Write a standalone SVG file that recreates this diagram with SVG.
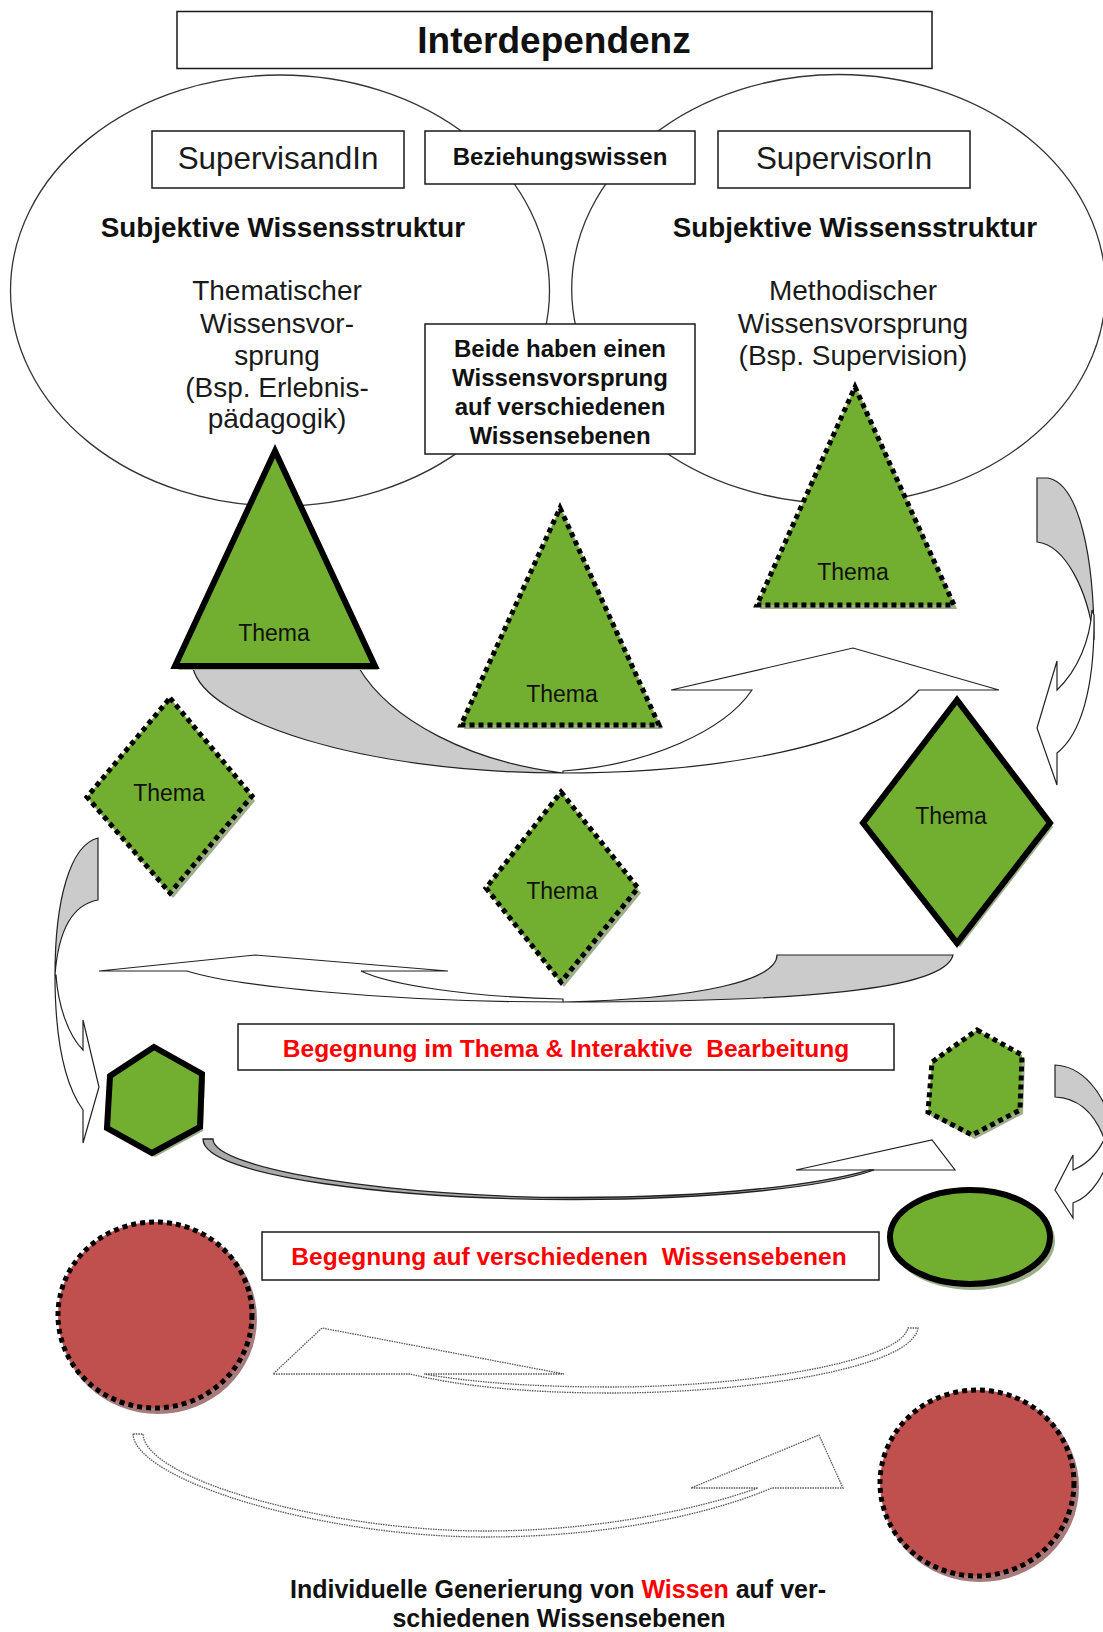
<svg xmlns="http://www.w3.org/2000/svg" width="1103" height="1632" viewBox="0 0 1103 1632">
<style>
text{font-family:"Liberation Sans",Arial,sans-serif}
.box{fill:#fff;stroke:#1a1a1a;stroke-width:1.5}
.ell{fill:#fff;stroke:#333;stroke-width:1.3}
.g{fill:#72ae30}
.r{fill:#c0504d}
.solid{stroke:#000;stroke-width:6;stroke-linejoin:miter}
.dot{stroke:#000;stroke-width:5;stroke-dasharray:5 4}
.gs{fill:#9caf88}
.rs{fill:#a87a7a}
.arr{fill:#fff;stroke:#222;stroke-width:1.2;stroke-linejoin:miter}
.back{fill:#cbcbcb;stroke:#222;stroke-width:1.2;stroke-linejoin:miter}
.dash{fill:#fff;stroke:#555;stroke-width:1.3;stroke-dasharray:1.5 1}
.thema{font-size:23px;fill:#111;text-anchor:middle}
.reg{fill:#1a1a1a;text-anchor:middle}
.bold{font-weight:bold;fill:#111;text-anchor:middle}
.lbl{font-size:24.5px;font-weight:bold;fill:#ff0000;text-anchor:middle;white-space:pre}
</style>

<g id="ellipse-left"><ellipse class="ell" cx="280" cy="290.5" rx="269.5" ry="215.5"/></g>
<g id="ellipse-right"><ellipse class="ell" cx="838.7" cy="289" rx="267" ry="214.5"/></g>

<g id="title">
<rect class="box" x="177" y="11.5" width="755" height="57"/>
<text class="bold" x="554" y="53" font-size="37">Interdependenz</text>
</g>

<g id="supervisandin">
<rect class="box" x="152" y="131" width="252" height="57"/>
<text class="reg" x="278" y="169" font-size="31.4">SupervisandIn</text>
</g>
<g id="beziehungswissen">
<rect class="box" x="425" y="131" width="270" height="53"/>
<text class="bold" x="560" y="165" font-size="24">Beziehungswissen</text>
</g>
<g id="supervisorin">
<rect class="box" x="718" y="131" width="252" height="57"/>
<text class="reg" x="844" y="169" font-size="31.4">SupervisorIn</text>
</g>

<g id="struktur-left">
<text class="bold" x="283" y="237" font-size="27.8">Subjektive Wissensstruktur</text>
<text class="reg" x="277" y="300" font-size="28">Thematischer</text>
<text class="reg" x="277" y="333" font-size="28">Wissensvor-</text>
<text class="reg" x="277" y="365" font-size="28">sprung</text>
<text class="reg" x="277" y="397" font-size="28">(Bsp. Erlebnis-</text>
<text class="reg" x="277" y="428" font-size="28">pädagogik)</text>
</g>
<g id="struktur-right">
<text class="bold" x="855" y="237" font-size="27.8">Subjektive Wissensstruktur</text>
<text class="reg" x="853" y="300" font-size="28">Methodischer</text>
<text class="reg" x="853" y="333" font-size="28">Wissensvorsprung</text>
<text class="reg" x="853" y="365" font-size="28">(Bsp. Supervision)</text>
</g>

<g id="beide">
<rect class="box" x="425" y="324" width="270" height="130"/>
<text class="bold" x="560" y="357" font-size="24">Beide haben einen</text>
<text class="bold" x="560" y="386" font-size="24">Wissensvorsprung</text>
<text class="bold" x="560" y="415" font-size="24">auf verschiedenen</text>
<text class="bold" x="560" y="444" font-size="24">Wissensebenen</text>
</g>

<g id="connectors">
<!-- A1 big curved up arrow -->
<path class="arr" d="M563,773 C720,773 870,745 919,690 L999,690 L853,648 L671,690 L752,690 C725,730 650,765 563,771 Z"/>
<path class="back" d="M193,668 C205,720 360,773 563,773 C470,762 390,720 359,668 Z"/>
<!-- A2 right curved arrow -->
<path class="back" d="M1037,478 L1048,478 C1080,484 1094,560 1094,640 C1088,590 1065,545 1037,542 Z"/>
<path class="arr" d="M1094,615 C1095,690 1080,735 1057,753 L1057,785 L1037,728 L1057,661 L1057,690 C1078,670 1090,640 1092,610 Z"/>
<!-- A3 lower curved arrow -->
<path class="arr" d="M563,1002 C380,1002 230,985 187,971 L99,971 L255,955 L448,971 L361,971 C390,985 470,997 563,999 Z"/>
<path class="back" d="M777,955 L953,955 C945,990 800,1002 563,1002 C700,999 777,980 777,955 Z"/>
<!-- A4 left curved arrow -->
<path class="back" d="M98,838 C70,845 55,900 55,975 C58,935 70,905 98,900 Z"/>
<path class="arr" d="M55,975 C55,1040 65,1085 83,1110 L83,1143 L99,1087 L83,1020 L83,1050 C68,1035 58,1005 56,975 Z"/>
<!-- A5 hexagon to hexagon -->
<path class="arr" d="M796,1170 L932,1140 L955,1170 Z"/>
<path class="back" d="M203,1139 C203,1177 400,1199.5 573,1199.5 C720,1199.5 830,1186 874,1170 L869,1170 C820,1184 720,1197.5 573,1197.5 C400,1197.5 213,1170 213,1139 Z" style="fill:#aaa;stroke-width:1.3"/>
<!-- A6 right lower curved arrow -->
<path class="back" d="M1055,1065 C1080,1066 1105,1090 1112,1130 L1108,1150 C1098,1115 1080,1098 1055,1097 Z"/>
<path class="arr" d="M1112,1140 C1108,1175 1090,1197 1073,1203 L1073,1218 L1055,1190 L1073,1155 L1073,1170 C1090,1163 1100,1150 1106,1135 Z"/>
<!-- A7 dotted arrow to left circle -->
<path class="dash" d="M918,1328 C912,1368 750,1393 611,1393 C520,1393 455,1385 410,1374 L273,1374 L322,1328 L564,1374 L424,1374 C470,1382 530,1387 611,1387 C745,1387 900,1362 908,1328 Z"/>
<!-- A8 dotted arrow to right circle -->
<path class="dash" d="M133,1434 C135,1480 320,1537 485,1537 C620,1537 720,1510 772,1488 L843,1488 L819,1435 L691,1488 L758,1488 C710,1505 610,1531 485,1531 C330,1531 145,1480 143,1434 Z"/>
</g>

<g id="tri-1">
<polygon class="gs" transform="translate(3,4)" points="275,451 375,666 175,666"/>
<polygon class="g solid" points="275,451 375,666 175,666"/>
<text class="thema" x="274" y="641">Thema</text>
</g>
<g id="tri-2">
<polygon class="gs" transform="translate(3,4)" points="560,508 659,725 461,725"/>
<polygon class="g dot" points="560,508 659,725 461,725"/>
<text class="thema" x="562" y="702">Thema</text>
</g>
<g id="tri-3">
<polygon class="gs" transform="translate(3,4)" points="855,387 954,605 757,605"/>
<polygon class="g dot" points="855,387 954,605 757,605"/>
<text class="thema" x="853" y="580">Thema</text>
</g>

<g id="dia-1">
<polygon class="gs" transform="translate(3,5)" points="170,698 252,796 170,893 87,797"/>
<polygon class="g dot" points="170,698 252,796 170,893 87,797"/>
<text class="thema" x="169" y="801">Thema</text>
</g>
<g id="dia-2">
<polygon class="gs" transform="translate(3,5)" points="561,792 638,888 561,982 486,888"/>
<polygon class="g dot" points="561,792 638,888 561,982 486,888"/>
<text class="thema" x="562" y="899">Thema</text>
</g>
<g id="dia-3">
<polygon class="gs" transform="translate(3,4)" points="957,700 1050,823 957,943 863,823"/>
<polygon class="g solid" points="957,700 1050,823 957,943 863,823"/>
<text class="thema" x="951" y="824">Thema</text>
</g>

<g id="label-1">
<rect class="box" x="238" y="1024" width="656" height="46"/>
<text class="lbl" x="566" y="1057" xml:space="preserve">Begegnung im Thema &amp; Interaktive  Bearbeitung</text>
</g>

<g id="hex-1">
<polygon class="gs" transform="translate(3,4)" points="154,1047 202,1074 200,1127 152,1153 107,1128 110,1076"/>
<polygon class="g solid" points="154,1047 202,1074 200,1127 152,1153 107,1128 110,1076"/>
</g>
<g id="hex-2">
<polygon class="gs" transform="translate(3,4)" points="977,1030 1022,1055 1020,1110 972,1135 928,1112 932,1062"/>
<polygon class="g dot" points="977,1030 1022,1055 1020,1110 972,1135 928,1112 932,1062"/>
</g>

<g id="oval-green">
<ellipse class="gs" cx="973" cy="1241" rx="82" ry="49"/>
<ellipse class="g solid" cx="970" cy="1237" rx="80" ry="47"/>
</g>

<g id="label-2">
<rect class="box" x="262" y="1232" width="617" height="48"/>
<text class="lbl" x="569" y="1265" xml:space="preserve">Begegnung auf verschiedenen  Wissensebenen</text>
</g>

<g id="circle-1">
<ellipse class="rs" cx="158" cy="1319" rx="99" ry="95"/>
<ellipse class="r dot" cx="155" cy="1315" rx="97" ry="93"/>
</g>
<g id="circle-2">
<ellipse class="rs" cx="980" cy="1487" rx="99" ry="95"/>
<ellipse class="r dot" cx="977" cy="1483" rx="97" ry="93"/>
</g>

<g id="caption">
<text class="bold" x="558" y="1598" font-size="25">Individuelle Generierung von <tspan fill="#ff0000">Wissen</tspan> auf ver-</text>
<text class="bold" x="559" y="1627" font-size="25">schiedenen Wissensebenen</text>
</g>
</svg>
